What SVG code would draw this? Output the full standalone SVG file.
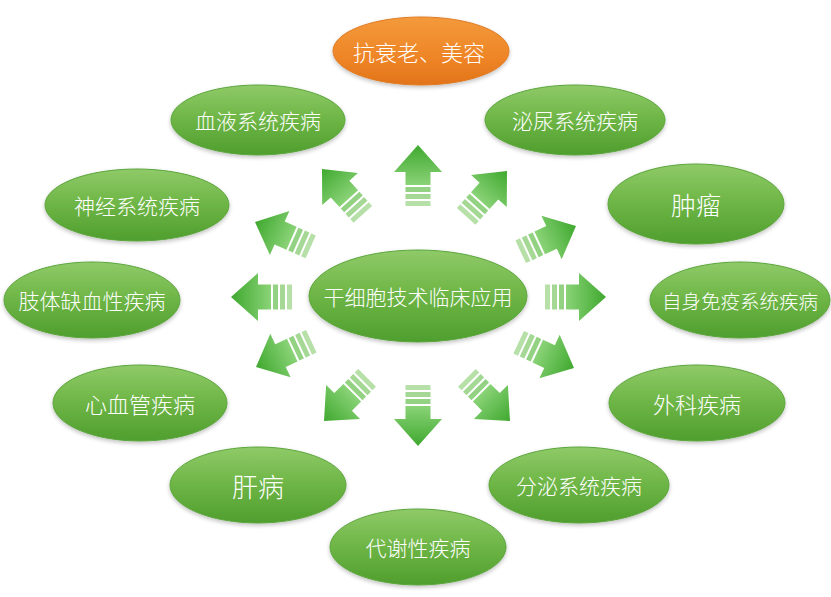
<svg xmlns="http://www.w3.org/2000/svg" width="831" height="597" viewBox="0 0 831 597">
<defs>
<linearGradient id="gG" x1="0" y1="0" x2="0" y2="1">
<stop offset="0" stop-color="#8fca68"/>
<stop offset="0.5" stop-color="#6db545"/>
<stop offset="1" stop-color="#4f9e2e"/>
</linearGradient>
<linearGradient id="gO" x1="0" y1="0" x2="0" y2="1">
<stop offset="0" stop-color="#f39a3c"/>
<stop offset="0.6" stop-color="#ee8526"/>
<stop offset="1" stop-color="#e2741a"/>
</linearGradient>
<linearGradient id="gHead" gradientUnits="userSpaceOnUse" x1="0" y1="0" x2="-40" y2="0">
<stop offset="0" stop-color="#3fa82f"/>
<stop offset="1" stop-color="#8ad377"/>
</linearGradient>
<filter id="sh" x="-10%" y="-10%" width="120%" height="130%">
<feGaussianBlur in="SourceAlpha" stdDeviation="2"/>
<feOffset dy="2"/>
<feComponentTransfer><feFuncA type="linear" slope="0.25"/></feComponentTransfer>
<feMerge><feMergeNode/><feMergeNode in="SourceGraphic"/></feMerge>
</filter>
<g id="arrow">
<polygon points="0,0 -27,-24 -27,-12.5 -40,-12.5 -40,12.5 -27,12.5 -27,24" fill="url(#gHead)"/>
<rect x="-47" y="-12.5" width="5" height="25" fill="#94d283"/>
<rect x="-54" y="-12.5" width="5" height="25" fill="#a4d894"/>
<rect x="-61" y="-12.5" width="5" height="25" fill="#b6e0a8"/>
</g>
</defs>
<style>
.e{fill:url(#gG);stroke:#5aa53a;stroke-width:1;filter:url(#sh)}
.o{fill:url(#gO);stroke:#e07a20;stroke-width:1;filter:url(#sh)}
.t{font-family:"Noto Sans CJK SC","Noto Sans",sans-serif;font-weight:300;fill:#ffffff;text-anchor:middle;dominant-baseline:central;font-size:21px}
</style>
<rect width="831" height="597" fill="#ffffff"/>
<g id="connectors">
<use href="#arrow" transform="translate(418,145) rotate(-90)"/>
<use href="#arrow" transform="translate(322,169) rotate(-132)"/>
<use href="#arrow" transform="translate(507,171) rotate(-48)"/>
<use href="#arrow" transform="translate(255,222) rotate(-156)"/>
<use href="#arrow" transform="translate(576,226) rotate(-25)"/>
<use href="#arrow" transform="translate(231,297) rotate(180)"/>
<use href="#arrow" transform="translate(606,297) rotate(0)"/>
<use href="#arrow" transform="translate(256,367) rotate(155)"/>
<use href="#arrow" transform="translate(574,368) rotate(25)"/>
<use href="#arrow" transform="translate(324,421) rotate(135)"/>
<use href="#arrow" transform="translate(418,446) rotate(90)"/>
<use href="#arrow" transform="translate(510,421) rotate(45)"/>
</g>
<g id="center"><ellipse class="e" cx="418" cy="296" rx="109" ry="46"/><text class="t" x="418" y="296">干细胞技术临床应用</text></g>
<g id="n-antiaging"><ellipse class="o" cx="421" cy="51" rx="88" ry="34"/><text class="t" x="419" y="51" style="font-size:22px">抗衰老、美容</text></g>
<g id="n-blood"><ellipse class="e" cx="258" cy="120" rx="87" ry="35"/><text class="t" x="258" y="120">血液系统疾病</text></g>
<g id="n-urinary"><ellipse class="e" cx="575" cy="120" rx="90" ry="35"/><text class="t" x="575" y="120">泌尿系统疾病</text></g>
<g id="n-nerve"><ellipse class="e" cx="137" cy="205" rx="92" ry="36"/><text class="t" x="137" y="205">神经系统疾病</text></g>
<g id="n-tumor"><ellipse class="e" cx="696" cy="204" rx="88" ry="40"/><text class="t" x="696" y="204" style="font-size:25px">肿瘤</text></g>
<g id="n-limb"><ellipse class="e" cx="92" cy="300" rx="88" ry="38"/><text class="t" x="92" y="300">肢体缺血性疾病</text></g>
<g id="n-immune"><ellipse class="e" cx="740" cy="300" rx="90" ry="38"/><text class="t" x="740" y="300" style="font-size:19.5px">自身免疫系统疾病</text></g>
<g id="n-cardio"><ellipse class="e" cx="140" cy="403" rx="87" ry="38"/><text class="t" x="140" y="403" style="font-size:22px">心血管疾病</text></g>
<g id="n-surgery"><ellipse class="e" cx="697" cy="403" rx="88" ry="38"/><text class="t" x="697" y="403" style="font-size:22px">外科疾病</text></g>
<g id="n-liver"><ellipse class="e" cx="258" cy="485" rx="88" ry="38"/><text class="t" x="258" y="485" style="font-size:26px">肝病</text></g>
<g id="n-secretion"><ellipse class="e" cx="579" cy="485" rx="90" ry="38"/><text class="t" x="579" y="485">分泌系统疾病</text></g>
<g id="n-metabolic"><ellipse class="e" cx="418" cy="547" rx="88" ry="38"/><text class="t" x="418" y="547">代谢性疾病</text></g>
</svg>
